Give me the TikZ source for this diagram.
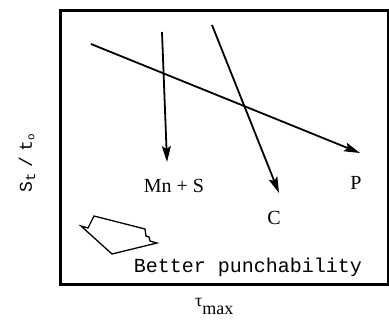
\documentclass[tikz,border=0pt]{standalone}
\usepackage{fontspec}
\setmainfont{Liberation Serif}
\newfontfamily\monof{Liberation Mono}
\usetikzlibrary{arrows.meta}
\begin{document}
\begin{tikzpicture}[x=1pt,y=1pt,
  trend/.style={line width=1.8pt,-{Stealth[length=16pt,width=9pt,inset=3pt]}},
  lbl/.style={font=\fontsize{20}{22}\selectfont,inner sep=0pt},
  mono/.style={font=\monof\fontsize{20}{22}\selectfont,inner sep=0pt}]
\useasboundingbox (0,0) rectangle (389,322);
\node[draw,line width=2.6pt,minimum width=328pt,minimum height=274pt,inner sep=0pt,anchor=north west] (frame) at (59,313) {};
% trends
\coordinate (p0) at (91,278);
\coordinate (p1) at (360,169);
\coordinate (m0) at (162,290);
\coordinate (m1) at (167,160);
\coordinate (c0) at (212,297);
\coordinate (c1) at (279,129);
\draw[trend] (p0) -- (p1);
\draw[trend] (m0) -- (m1);
\draw[trend] (c0) -- (c1);
\node[lbl] (mn) at (174,136) {Mn + S};
\node[lbl] (c) at (274,104) {C};
\node[lbl] (p) at (356,139) {P};
\node[mono] (better) at (248,55) {Better punchability};
% hollow arrow
\draw[line width=1.3pt,line join=miter] (81,96) -- (88,94) -- (94,106) -- (145,93) -- (146,86) -- (149,85) -- (150,81) -- (157,79) -- (112,68) -- cycle;
% axis labels
\node[inner sep=0pt,anchor=base west] (xl) at (195,16) {\fontsize{18}{20}\selectfont τ\raisebox{-8pt}{max}};
\node[font=\monof\fontsize{18}{22}\selectfont,inner sep=0pt,rotate=90] (yl) at (27,159) {S$_{\textrm{\monof\fontsize{14}{16}\selectfont t}}$\hspace{5pt}/\hspace{5pt}t$_{\textrm{\monof\fontsize{11}{16}\selectfont o}}$};
\end{tikzpicture}
\end{document}
